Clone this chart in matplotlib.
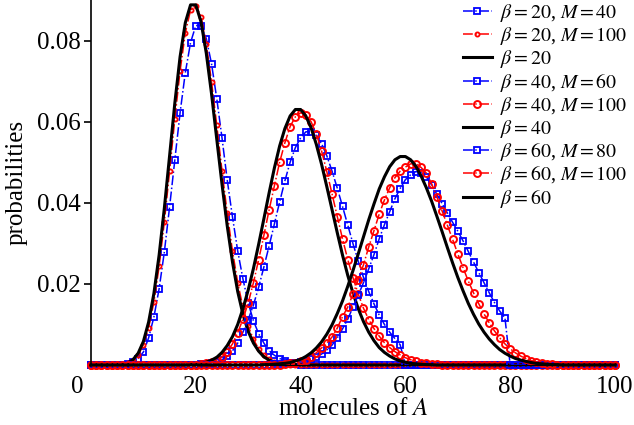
import numpy as np
import matplotlib
matplotlib.use('Agg')
import matplotlib.pyplot as plt
import matplotlib.transforms as mtransforms

plt.rcParams['font.family'] = 'serif'
plt.rcParams['font.serif'] = ['Liberation Serif', 'DejaVu Serif']
plt.rcParams['mathtext.fontset'] = 'stix'

x = np.arange(0, 101)

# beta = 20
b20_m40_start = 6
b20_m40 = [0.0001, 0.0003, 0.0007, 0.0016, 0.0032, 0.0067, 0.0118, 0.0188, 0.0279, 0.0390,
           0.0506, 0.0622, 0.0721, 0.0795, 0.0837, 0.0837, 0.0805, 0.0743, 0.0657, 0.0560,
           0.0456, 0.0365, 0.0281, 0.0212, 0.0153, 0.0109, 0.0077, 0.0054, 0.0035, 0.0024,
           0.0016, 0.0010, 0.0006, 0.0003]
b20_m100_start = 6
b20_m100 = [0.0001, 0.0004, 0.0011, 0.0024, 0.0050, 0.0092, 0.0155, 0.0243, 0.0353, 0.0478,
            0.0607, 0.0725, 0.0819, 0.0875, 0.0886, 0.0859, 0.0792, 0.0699, 0.0591, 0.0479,
            0.0374, 0.0281, 0.0203, 0.0142, 0.0096, 0.0063, 0.0040, 0.0024, 0.0015, 0.0008,
            0.0005, 0.0003, 0.0001, 0.0001]
b20_start = 5
b20 = [0.0001, 0.0002, 0.0005, 0.0013, 0.0029, 0.0058, 0.0106, 0.0176, 0.0271, 0.0387,
       0.0516, 0.0646, 0.0760, 0.0844, 0.0888, 0.0888, 0.0846, 0.0769, 0.0669, 0.0557,
       0.0446, 0.0343, 0.0254, 0.0181, 0.0125, 0.0083, 0.0054, 0.0034, 0.0020, 0.0012,
       0.0007, 0.0004, 0.0002, 0.0001, 0.0001]

# beta = 40
b40_m60_start = 20
b40_m60 = [0.0001, 0.0002, 0.0003, 0.0005, 0.0008, 0.0013, 0.0021, 0.0035, 0.0054, 0.0081,
           0.0112, 0.0148, 0.0192, 0.0242, 0.0294, 0.0348, 0.0402, 0.0454, 0.0500, 0.0536,
           0.0560, 0.0575, 0.0575, 0.0566, 0.0546, 0.0516, 0.0478, 0.0436, 0.0391, 0.0345,
           0.0299, 0.0256, 0.0216, 0.0181, 0.0151, 0.0123, 0.0100, 0.0081, 0.0065, 0.0050]
b40_m100_start = 20
b40_m100 = [0.0001, 0.0002, 0.0004, 0.0007, 0.0012, 0.0020, 0.0033, 0.0052, 0.0080, 0.0113,
            0.0153, 0.0203, 0.0260, 0.0320, 0.0383, 0.0442, 0.0500, 0.0548, 0.0588, 0.0612,
            0.0622, 0.0617, 0.0600, 0.0570, 0.0528, 0.0477, 0.0422, 0.0366, 0.0311, 0.0260,
            0.0215, 0.0175, 0.0140, 0.0112, 0.0090, 0.0071, 0.0055, 0.0043, 0.0033, 0.0025,
            0.0018, 0.0013, 0.0009, 0.0006, 0.0004, 0.0003, 0.0002, 0.0001]
b40_start = 19
b40 = [0.0001, 0.0002, 0.0004, 0.0007, 0.0012, 0.0019, 0.0031, 0.0048, 0.0070, 0.0100,
       0.0139, 0.0185, 0.0238, 0.0298, 0.0361, 0.0425, 0.0486, 0.0540, 0.0583, 0.0614,
       0.0630, 0.0630, 0.0614, 0.0585, 0.0544, 0.0495, 0.0440, 0.0383, 0.0326, 0.0271,
       0.0221, 0.0177, 0.0139, 0.0107, 0.0081, 0.0060, 0.0043, 0.0031, 0.0022, 0.0015,
       0.0010, 0.0007, 0.0004, 0.0003, 0.0002, 0.0001, 0.0001]

# beta = 60
b60_m80_start = 35
b60_m80 = [0.0002, 0.0003, 0.0004, 0.0005, 0.0006, 0.0008, 0.0011, 0.0015, 0.0020, 0.0027,
           0.0037, 0.0049, 0.0067, 0.0089, 0.0113, 0.0143, 0.0172, 0.0203, 0.0237, 0.0272,
           0.0311, 0.0346, 0.0378, 0.0410, 0.0435, 0.0457, 0.0469, 0.0477, 0.0474, 0.0464,
           0.0444, 0.0421, 0.0398, 0.0375, 0.0352, 0.0330, 0.0306, 0.0280, 0.0254, 0.0228,
           0.0203, 0.0178, 0.0154, 0.0133, 0.0116]
b60_m100_start = 36
b60_m100 = [0.0001, 0.0002, 0.0004, 0.0006, 0.0009, 0.0013, 0.0019, 0.0030, 0.0042, 0.0054,
            0.0069, 0.0091, 0.0119, 0.0143, 0.0175, 0.0210, 0.0247, 0.0291, 0.0331, 0.0372,
            0.0407, 0.0437, 0.0462, 0.0478, 0.0488, 0.0496, 0.0496, 0.0487, 0.0473, 0.0447,
            0.0415, 0.0380, 0.0345, 0.0310, 0.0274, 0.0240, 0.0207, 0.0178, 0.0151, 0.0126,
            0.0104, 0.0084, 0.0067, 0.0052, 0.0040, 0.0030, 0.0022, 0.0016, 0.0011, 0.0008,
            0.0005, 0.0003, 0.0002, 0.0001]
b60_start = 33
b60 = [0.0001, 0.0001, 0.0002, 0.0003, 0.0004, 0.0006, 0.0010, 0.0014, 0.0021, 0.0030,
       0.0042, 0.0057, 0.0076, 0.0099, 0.0127, 0.0158, 0.0194, 0.0233, 0.0274, 0.0316,
       0.0358, 0.0397, 0.0434, 0.0464, 0.0489, 0.0506, 0.0514, 0.0514, 0.0506, 0.0490,
       0.0466, 0.0437, 0.0404, 0.0367, 0.0329, 0.0290, 0.0252, 0.0216, 0.0183, 0.0152,
       0.0125, 0.0101, 0.0081, 0.0064, 0.0050, 0.0038, 0.0029, 0.0022, 0.0016, 0.0012,
       0.0009, 0.0006, 0.0004, 0.0003, 0.0002, 0.0001, 0.0001]


def full(start, vals):
    # values outside the listed range sit on the baseline
    y = np.zeros(x.size)
    y[start:start + len(vals)] = vals
    return y


fig = plt.figure(figsize=(6.34, 4.25), dpi=100)
ax = fig.add_axes([91 / 634, 60 / 425, 524 / 634, 365 / 425])

blue = dict(color='b', ls='-.', lw=1.1, marker='s', ms=4, mfc='none', mew=1.3, clip_on=False)
red_s = dict(color='r', ls='-.', lw=1.1, marker='o', ms=3, mfc='none', mew=1.3, clip_on=False)
red = dict(color='r', ls='-.', lw=1.1, marker='o', ms=5, mfc='none', mew=1.4, clip_on=False)
black = dict(color='k', ls='-', lw=2.2, clip_on=False)

ax.plot(x, full(b20_m40_start, b20_m40), label=r'$\beta = 20$, $M = 40$', **blue)
ax.plot(x, full(b20_m100_start, b20_m100), label=r'$\beta = 20$, $M = 100$', **red_s)
ax.plot(x, full(b20_start, b20), label=r'$\beta = 20$', **black)
ax.plot(x, full(b40_m60_start, b40_m60), label=r'$\beta = 40$, $M = 60$', **blue)
ax.plot(x, full(b40_m100_start, b40_m100), label=r'$\beta = 40$, $M = 100$', **red)
ax.plot(x, full(b40_start, b40), label=r'$\beta = 40$', **black)
ax.plot(x, full(b60_m80_start, b60_m80), label=r'$\beta = 60$, $M = 80$', **blue)
ax.plot(x, full(b60_m100_start, b60_m100), label=r'$\beta = 60$, $M = 100$', **red)
ax.plot(x, full(b60_start, b60), label=r'$\beta = 60$', **black)

ax.set_xlim(0, 100)
ax.set_ylim(0, 0.09)
ax.set_xticks([0, 20, 40, 60, 80, 100])
ax.set_yticks([0.02, 0.04, 0.06, 0.08])
ax.set_yticklabels(['0.02', '0.04', '0.06', '0.08'])
ax.tick_params(axis='both', labelsize=18)
ax.tick_params(axis='x', length=0, pad=8)
ax.tick_params(axis='y', direction='out', length=5, width=1.2, pad=2.5)
ax.spines['top'].set_visible(False)
ax.spines['right'].set_visible(False)
ax.spines['left'].set_linewidth(1.2)

# the "0" under the axis sits a little left of the origin
lab0 = ax.get_xticklabels()[0]
lab0.set_transform(lab0.get_transform() + mtransforms.ScaledTranslation(-14 / 100, 0, fig.dpi_scale_trans))

ax.set_xlabel(r'molecules of $A$', fontsize=18, labelpad=0)
ax.set_ylabel('probabilities', fontsize=18, labelpad=7)

ax.legend(loc='upper left', bbox_to_anchor=(463 / 634, 423 / 425), bbox_transform=fig.transFigure,
          frameon=False, fontsize=14.3, labelspacing=0.06, handlelength=1.45, handletextpad=0.4,
          borderpad=0, borderaxespad=0)

fig.savefig('out.png', dpi=100)
